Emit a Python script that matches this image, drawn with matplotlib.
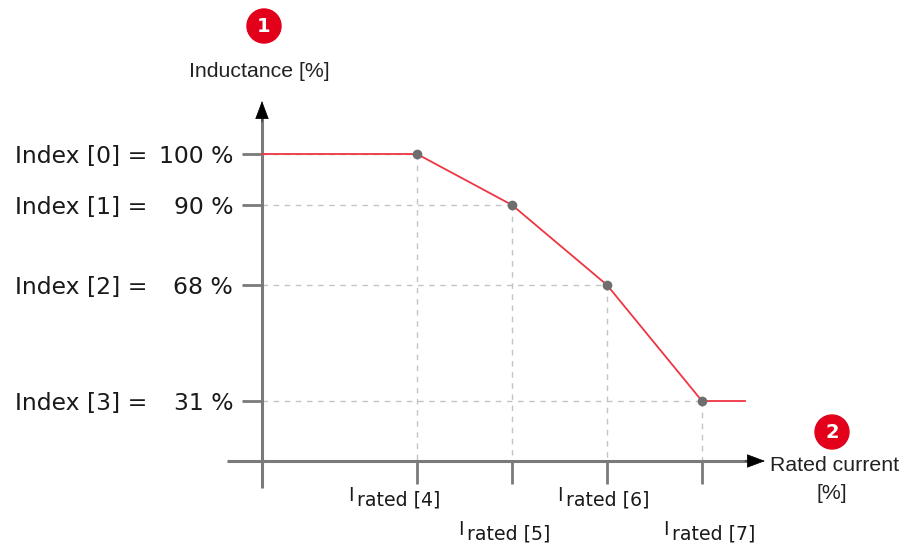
import numpy as np
import matplotlib
matplotlib.use("Agg")
import matplotlib.pyplot as plt
from matplotlib.transforms import Affine2D, blended_transform_factory
from matplotlib.patches import Circle

# ---- data ----
level_names = ["Index [0] =", "Index [1] =", "Index [2] =", "Index [3] ="]
level_values = [100, 90, 68, 31]
level_value_labels = ["100 %", "90 %", "68 %", "31 %"]
current_index = [4, 5, 6, 7]
current_labels = ["rated [4]", "rated [5]", "rated [6]", "rated [7]"]
y_title = "Inductance [%]"
x_title_1 = "Rated current"
x_title_2 = "[%]"

# ---- layout (pixel positions, top-origin, of the figure) ----
W, H = 902, 546
level_px_up = [392, 341, 261, 145]      # where each level sits (from bottom)
tick_px = [417, 511, 607, 702]
yaxis_px = 262
xaxis_px = 461

fig = plt.figure(figsize=(W / 100, H / 100), dpi=100)
ax = fig.add_axes([0, 0, 1, 1])
ax.set_axis_off()

# piecewise linear y scale: value -> pixel up
vs = np.array(level_values[::-1], float)
ps = np.array(level_px_up[::-1], float)
lo_s = (ps[1] - ps[0]) / (vs[1] - vs[0])
hi_s = (ps[-1] - ps[-2]) / (vs[-1] - vs[-2])
vx = np.concatenate([[vs[0] - 1000], vs, [vs[-1] + 1000]])
px = np.concatenate([[ps[0] - 1000 * lo_s], ps, [ps[-1] + 1000 * hi_s]])


def fwd(v):
    return np.interp(v, vx, px)


def inv(p):
    return np.interp(p, px, vx)


ax.set_yscale("function", functions=(fwd, inv))
ax.set_ylim(inv(0), inv(H))
sp = (tick_px[-1] - tick_px[0]) / (current_index[-1] - current_index[0])


def px2x(p):
    return current_index[0] + (p - tick_px[0]) / sp


ax.set_xlim(px2x(0), px2x(W))

PX = Affine2D().scale(1, -1).translate(0, H).scale(1 / W, 1 / H) + fig.transFigure

axis_col = "#7a7a7a"
red = "#ee3542"
dot = "#6e6e6e"
guide = "#c4c4c4"
txt = "#1a1a1a"

x0 = px2x(yaxis_px)
base_v = inv(H - xaxis_px)

# guides
for xi, v in zip(current_index, level_values):
    ax.plot([x0, xi], [v, v], ls=(0, (4, 4)), color=guide, lw=1.0, zorder=1)
    ax.plot([xi, xi], [v, base_v], ls=(0, (4, 4)), color=guide, lw=1.0, zorder=1)

# curve
line_x = [x0] + current_index + [px2x(745)]
line_y = [level_values[0]] + level_values + [level_values[-1]]
ax.plot(line_x, line_y, color=red, lw=1.3, zorder=3)
ax.plot(current_index, level_values, "o", color=dot, ms=7, zorder=4, mec="none")

# axes lines with arrows
ax.plot([yaxis_px, yaxis_px], [488, 112], color=axis_col, lw=2.2, transform=PX, zorder=2,
        solid_capstyle="butt")
ax.annotate("", xy=(yaxis_px, 101), xytext=(yaxis_px, 122), xycoords=PX, textcoords=PX,
            arrowprops=dict(arrowstyle="-|>,head_length=1.2,head_width=0.45", color="black",
                            lw=0.5, shrinkA=0, shrinkB=0))
ax.plot([227, 752], [xaxis_px, xaxis_px], color=axis_col, lw=2.2, transform=PX, zorder=2,
        solid_capstyle="butt")
ax.annotate("", xy=(765, xaxis_px), xytext=(745, xaxis_px), xycoords=PX, textcoords=PX,
            arrowprops=dict(arrowstyle="-|>,head_length=1.2,head_width=0.45", color="black",
                            lw=0.5, shrinkA=0, shrinkB=0))

# ticks
bx = blended_transform_factory(ax.transData, PX)
for xi in current_index:
    ax.plot([xi, xi], [xaxis_px, 484], color=axis_col, lw=2.0, transform=bx, zorder=2,
            solid_capstyle="butt")
by = blended_transform_factory(PX, ax.transData)
for v in level_values:
    ax.plot([242, yaxis_px], [v, v], color=axis_col, lw=2.0, transform=by, zorder=2,
            solid_capstyle="butt")

# y labels
for name, v, vl in zip(level_names, level_values, level_value_labels):
    ax.text(15, v, name, transform=by, ha="left", va="center_baseline", fontsize=16.9,
            family="DejaVu Sans", color=txt)
    ax.text(233, v, vl, transform=by, ha="right", va="center_baseline", fontsize=16.9,
            family="DejaVu Sans", color=txt)

# x labels
label_off = [-69, -53, -50, -39]
rows = [0, 1, 0, 1]
for tp, off, r, lab in zip(tick_px, label_off, rows, current_labels):
    base = 506 + 34 * r
    ax.text(tp + off, base - 5, "I", transform=PX, ha="left", va="baseline", fontsize=13.6,
            family="DejaVu Sans", color=txt)
    ax.text(tp + off + 9, base, lab, transform=PX, ha="left", va="baseline", fontsize=13.6,
            family="DejaVu Sans", color=txt)

# titles
ax.text(259, 77, y_title, transform=PX, ha="center", va="baseline", fontsize=15.3,
        family="Liberation Sans", color="#222222")
ax.text(770, 471, x_title_1, transform=PX, ha="left", va="baseline", fontsize=15.3,
        family="Liberation Sans", color="#222222")
ax.text(832, 499, x_title_2, transform=PX, ha="center", va="baseline", fontsize=15.3,
        family="Liberation Sans", color="#222222")

# badges
for (cx, cy, n) in [(264, 26, "1"), (832, 432, "2")]:
    ax.add_patch(Circle((cx, cy), 17, transform=PX, color="#e2001a", zorder=5))
    ax.text(cx, cy + 1, n, transform=PX, ha="center", va="center", fontsize=14,
            fontweight="bold", color="white", family="DejaVu Sans", zorder=6)

fig.savefig("out.png", dpi=100)
